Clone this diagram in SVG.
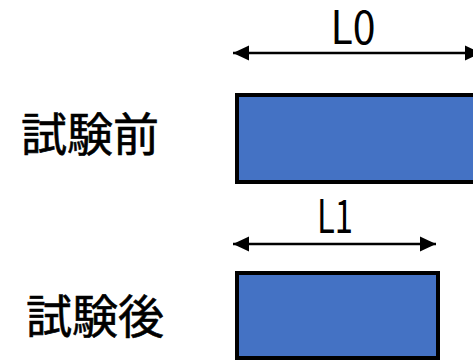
<svg xmlns="http://www.w3.org/2000/svg" width="473" height="361" viewBox="0 0 473 361">
<style>
.bar{fill:#4472C4;stroke:#000;stroke-width:4}
.dim{stroke:#000;stroke-width:2.5;fill:none}
.lbl{font-family:"Noto Sans CJK JP","Noto Sans",sans-serif;font-size:46px;fill:#000;stroke:#000;stroke-width:0.6}
.len{font-family:"Noto Sans CJK JP","Noto Sans",sans-serif;font-size:46px;fill:#000;text-anchor:middle}
</style>
<defs>
<marker id="ah" markerUnits="userSpaceOnUse" markerWidth="16" markerHeight="16" viewBox="0 0 16 16" refX="16" refY="8" orient="auto-start-reverse">
<path d="M0,0.5 L16,8 L0,15.5 Z" fill="#000"/>
</marker>
</defs>
<g id="connectors">
<line class="dim" x1="233" y1="53" x2="481" y2="53" marker-start="url(#ah)" marker-end="url(#ah)"/>
<line class="dim" x1="233" y1="244" x2="436" y2="244" marker-start="url(#ah)" marker-end="url(#ah)"/>
</g>
<g id="before">
<rect class="bar" x="237" y="95" width="250" height="87"/>
<text class="lbl" x="21" y="151">試験前</text>
<text class="len" x="353" y="44" textLength="45" lengthAdjust="spacingAndGlyphs">L0</text>
</g>
<g id="after">
<rect class="bar" x="237" y="273" width="201" height="85"/>
<text class="lbl" x="26" y="333">試験後</text>
<text class="len" x="335" y="233" textLength="36" lengthAdjust="spacingAndGlyphs">L1</text>
</g>
</svg>
